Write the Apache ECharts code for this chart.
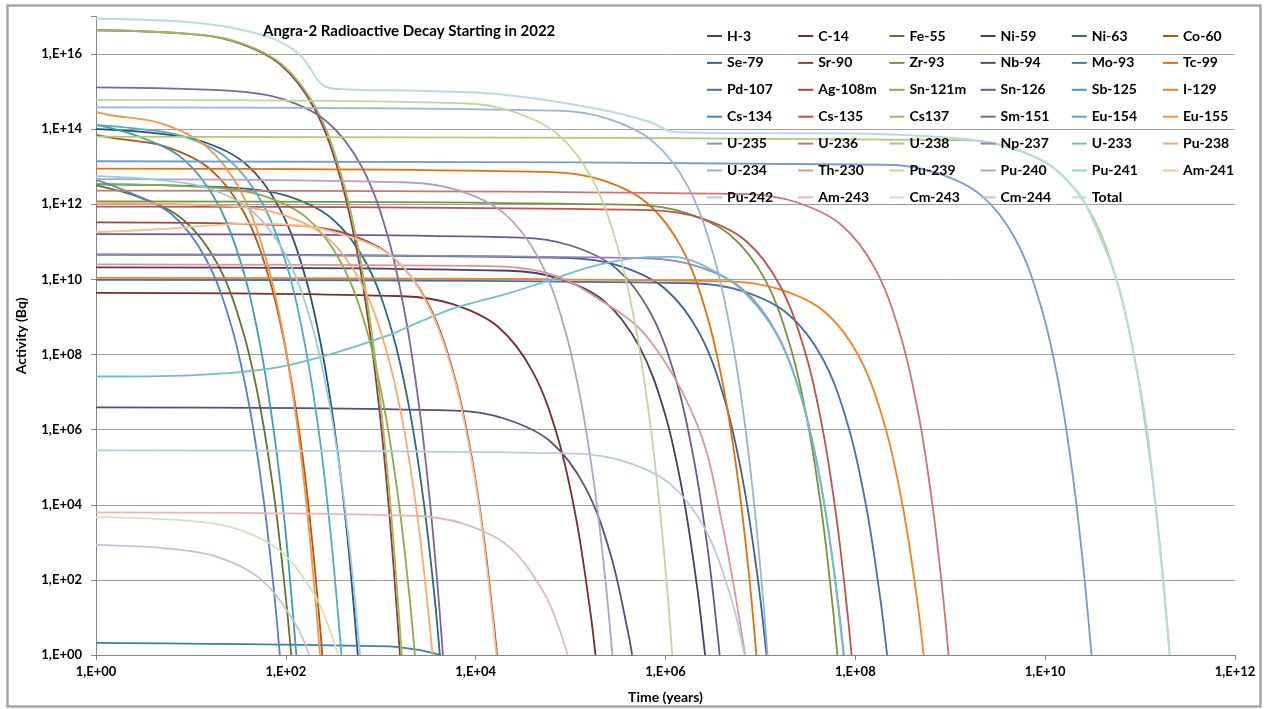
<!DOCTYPE html>
<html>
<head>
<meta charset="utf-8">
<title>Angra-2 Radioactive Decay</title>
<script src="https://cdn.jsdelivr.net/npm/echarts@6/dist/echarts.min.js"></script>
<style>
  html, body { margin: 0; padding: 0; background: #fff; }
  #main { width: 1271px; height: 709px; }
</style>
</head>
<body>
<div id="main"></div>
<script>
  // legend order, 6 per row
  const names = [
    'H-3', 'C-14', 'Fe-55', 'Ni-59', 'Ni-63', 'Co-60',
    'Se-79', 'Sr-90', 'Zr-93', 'Nb-94', 'Mo-93', 'Tc-99',
    'Pd-107', 'Ag-108m', 'Sn-121m', 'Sn-126', 'Sb-125', 'I-129',
    'Cs-134', 'Cs-135', 'Cs137', 'Sm-151', 'Eu-154', 'Eu-155',
    'U-235', 'U-236', 'U-238', 'Np-237', 'U-233', 'Pu-238',
    'U-234', 'Th-230', 'Pu-239', 'Pu-240', 'Pu-241', 'Am-241',
    'Pu-242', 'Am-243', 'Cm-243', 'Cm-244', 'Total'
  ];

  // [time (years), activity (Bq)]
  const h3 = [[1,1e14],[3.7,8.1e13],[12.3,5e13],[37,1.25e13],[86,7.8e11],[160,1.2e10],[246,9.5e7],[345,3.7e5],[444,1.5e3],[542,5.7],[573,1]];
  const c14 = [[1,4.4e9],[1719,3.56e9],[5730,2.2e9],[17190,5.5e8],[40110,3.4e7],[74490,5.4e5],[114600,4.2e3],[160440,16],[183000,1]];
  const fe55 = [[1,3.2e12],[2.74,1.6e12],[8.2,4e11],[19.2,2.5e10],[35.6,3.9e8],[54.8,3e6],[76.7,1.2e4],[98.6,47],[114,1]];
  const ni59 = [[1,2.1e10],[2.28e4,1.7e10],[7.6e4,1.05e10],[2.28e5,2.6e9],[5.32e5,1.6e8],[9.88e5,2.6e6],[1.52e6,2e4],[2.13e6,78],[2.61e6,1]];
  const ni63 = [[1,3.4e12],[30,2.75e12],[101,1.7e12],[303,4.25e11],[707,2.65e10],[1313,4.1e8],[2020,3.2e6],[2828,1.26e4],[3636,50],[4200,1]];
  const co60 = [[1,7e13],[1.6,5.7e13],[5.3,3.5e13],[15.8,8.8e12],[36.9,5.5e11],[68.5,8.5e9],[105,6.7e7],[148,2.6e5],[190,1e3],[232,4],[242,1]];
  const se79 = [[1,4.6e10],[9.8e4,3.7e10],[3.27e5,2.3e10],[9.8e5,5.75e9],[2.29e6,3.6e8],[4.25e6,5.6e6],[6.54e6,4.4e4],[9.16e6,170],[1.16e7,1]];
  const sr90 = [[1,4.3e16],[8.6,3.5e16],[28.8,2.15e16],[86.4,5.4e15],[202,3.4e14],[374,5.2e12],[576,4.1e10],[806,1.6e8],[1037,6.3e5],[1267,2.5e3],[1498,9.5],[1593,1]];
  const zr93 = [[1,1.2e12],[4.83e5,9.7e11],[1.61e6,6e11],[4.83e6,1.5e11],[1.13e7,9.4e9],[2.09e7,1.46e8],[3.22e7,1.14e6],[4.51e7,4.4e3],[5.8e7,17.5],[6.46e7,1]];
  const nb94 = [[1,3.9e6],[6090,3.2e6],[2.03e4,1.95e6],[6.09e4,4.9e5],[1.42e5,3e4],[2.64e5,476],[4.06e5,3.7],[4.45e5,1]];
  const mo93 = [[1,2.1],[1200,1.7],[2400,1.39],[3400,1.16],[4300,1]];
  const tc99 = [[1,8.9e12],[6.3e4,7.2e12],[2.11e5,4.45e12],[6.33e5,1.1e12],[1.48e6,6.9e10],[2.74e6,1.09e9],[4.22e6,8.5e6],[5.91e6,3.3e4],[7.6e6,130],[9.07e6,1]];
  const pd107 = [[1,9.7e9],[1.95e6,7.9e9],[6.5e6,4.85e9],[1.95e7,1.2e9],[4.55e7,7.6e7],[8.45e7,1.2e6],[1.3e8,9.2e3],[1.82e8,36],[2.16e8,1]];
  const ag108m = [[1,3.3e11],[131,2.7e11],[438,1.65e11],[1314,4.1e10],[3066,2.6e9],[5694,4e7],[8760,3.1e5],[12264,1.2e3],[15768,4.8],[16800,1]];
  const sn121m = [[1,3.5e12],[16.5,2.8e12],[55,1.75e12],[165,4.4e11],[385,2.7e10],[715,4.3e8],[1100,3.3e6],[1540,1.3e4],[1980,51],[2290,1]];
  const sn126 = [[1,1.6e11],[3e4,1.3e11],[1e5,8e10],[3e5,2e10],[7e5,1.25e9],[1.3e6,2e7],[2e6,1.5e5],[2.8e6,590],[3.6e6,2.3],[3.72e6,1]];
  const sb125 = [[1,1.3e14],[2.76,6.5e13],[8.3,1.6e13],[19.3,1e12],[35.9,1.6e10],[55.2,1.2e8],[77.3,4.8e5],[99.4,1.9e3],[121,7.4],[129,1]];
  const i129 = [[1,1.1e10],[4.7e6,8.9e9],[1.57e7,5.5e9],[4.71e7,1.4e9],[1.1e8,8.6e7],[2.04e8,1.3e6],[3.14e8,1e4],[4.4e8,41],[5.24e8,1]];
  const cs134 = [[1,4.5e12],[2.06,2.25e12],[6.2,5.6e11],[14.4,3.5e10],[26.8,5.5e8],[41.2,4.3e6],[57.7,1.7e4],[74.2,66],[86.5,1]];
  const cs135 = [[1,8.7e11],[6.9e5,7e11],[2.3e6,4.35e11],[6.9e6,1.1e11],[1.61e7,6.8e9],[2.99e7,1.06e8],[4.6e7,8.3e5],[6.44e7,3.2e3],[8.28e7,12.7],[9.13e7,1]];
  const cs137 = [[1,4.3e16],[9,3.5e16],[30.1,2.15e16],[90.3,5.4e15],[211,3.4e14],[391,5.2e12],[602,4.1e10],[843,1.6e8],[1084,6.3e5],[1324,2.5e3],[1565,9.5],[1665,1]];
  const sm151 = [[1,1.3e15],[27,1.05e15],[90,6.5e14],[270,1.6e14],[630,1e13],[1170,1.6e11],[1800,1.2e9],[2520,4.8e6],[3240,1.9e4],[3960,74],[4520,1]];
  const eu154 = [[1,1.3e14],[2.5,1.05e14],[8.2,6.5e13],[24.6,1.6e13],[57.4,1e12],[107,1.6e10],[164,1.2e8],[230,4.8e5],[295,1.9e3],[361,7.4],[385,1]];
  const eu155 = [[1,2.9e14],[1.43,2.35e14],[4.76,1.45e14],[14.3,3.6e13],[33.3,2.3e12],[61.9,3.5e10],[95.2,2.8e8],[133,1.1e6],[171,4.2e3],[209,17],[229,1]];
  const u235 = [[1,1.4e13],[2.1e8,1.13e13],[7.04e8,7e12],[2.11e9,1.75e12],[4.93e9,1.1e11],[9.15e9,1.7e9],[1.41e10,1.33e7],[1.97e10,5.2e4],[2.53e10,204],[3.08e10,1]];
  const u236 = [[1,2.3e12],[7e6,1.86e12],[2.34e7,1.15e12],[7.02e7,2.9e11],[1.64e8,1.8e10],[3.04e8,2.8e8],[4.68e8,2.2e6],[6.55e8,8.5e3],[8.42e8,34],[9.6e8,1]];
  const u238 = [[1,6.3e13],[1.34e9,5.1e13],[4.47e9,3.15e13],[1.34e10,7.9e12],[3.13e10,4.9e11],[5.81e10,7.7e9],[8.94e10,6e7],[1.25e11,2.3e5],[1.61e11,920],[1.97e11,3.6],[2.05e11,1]];
  const np237 = [[1,4.5e10],[6.4e5,3.65e10],[2.14e6,2.25e10],[6.42e6,5.6e9],[1.5e7,3.5e8],[2.78e7,5.5e6],[4.28e7,4.3e4],[5.99e7,167],[7.58e7,1]];
  const u233 = [[1,2.6e7],[10,2.8e7],[68,4.2e7],[230,8.5e7],[1260,3.4e8],[2750,8e8],[6300,1.8e9],[2.3e4,4.4e9],[5.6e4,9e9],[1.9e5,2.4e10],[6.5e5,3.9e10],[1.2e6,4e10],[3.2e6,1.7e10],[7.2e6,3.9e9],[1.6e7,2.4e8],[3e7,2.7e6],[5e7,4e3],[7.5e7,1]];
  const pu238 = [[1,1.1e12],[26,8.9e11],[87.7,5.5e11],[263,1.4e11],[614,8.6e9],[1140,1.34e8],[1754,1.05e6],[2456,4.1e3],[3157,16],[3508,1]];
  const u234 = [[1,3.8e14],[7.35e4,3.1e14],[2.45e5,1.9e14],[7.35e5,4.75e13],[1.72e6,3e12],[3.19e6,4.6e10],[4.9e6,3.6e8],[6.86e6,1.4e6],[8.82e6,5.5e3],[1.08e7,22],[1.19e7,1]];
  const th230 = [[1,2.5e10],[1e4,2.3e10],[5.6e4,1.5e10],[1.9e5,3.2e9],[6.5e5,2.8e8],[2.2e6,1.2e6],[4e6,2.7e3],[6.9e6,1]];
  const pu239 = [[1,6e14],[7230,4.9e14],[2.41e4,3e14],[7.23e4,7.5e13],[1.69e5,4.7e12],[3.13e5,7.3e10],[4.82e5,5.7e8],[6.75e5,2.2e6],[8.68e5,8.8e3],[1.06e6,34],[1.18e6,1]];
  const pu240 = [[1,4.7e12],[1968,3.8e12],[6561,2.35e12],[1.97e4,5.9e11],[4.59e4,3.7e10],[8.53e4,5.7e8],[1.31e5,4.5e6],[1.84e5,1.7e4],[2.36e5,69],[2.76e5,1]];
  const pu241 = [[1,5.6e12],[4.3,4.5e12],[14.3,2.8e12],[42.9,7e11],[100,4.4e10],[186,6.8e8],[286,5.3e6],[400,2.1e4],[515,82],[605,1]];
  const am241 = [[1,1.8e11],[5,2.2e11],[15,2.7e11],[40,3.05e11],[100,2.9e11],[300,1.9e11],[1300,4.2e10],[3000,2.6e9],[5600,4e7],[8600,3.2e5],[12000,1.4e3],[16500,1]];
  const pu242 = [[1,2.8e5],[1.13e5,2.3e5],[3.75e5,1.4e5],[1.13e6,3.5e4],[2.63e6,2.2e3],[4.88e6,34],[6.8e6,1]];
  const am243 = [[1,6.3e3],[2210,5.1e3],[7370,3.15e3],[2.21e4,790],[5.16e4,49],[7.37e4,6.2],[9.3e4,1]];
  const cm243 = [[1,4.7e3],[8.7,3.8e3],[29.1,2.35e3],[87,590],[204,37],[291,4.6],[355,1]];
  const cm244 = [[1,850],[5.4,690],[18.1,425],[54,106],[127,6.6],[176,1]];
  const total = [[1,8.7e16],[12.5,6.6e16],[63,2.95e16],[141,9.5e15],[229,1.75e15],[316,1.2e15],[2570,1.05e15],[1.8e4,8.5e14],[2e5,3.4e14],[6.9e5,1.55e14],[1.2e6,8.5e13],[3.8e6,7.9e13],[1e8,7.7e13],[1e9,5.9e13],[3e9,4.1e13],[1e10,1.33e13],[2e10,2.8e12],[2.67e10,1e12],[5.65e10,1e10],[8.6e10,1e8],[1.17e11,1.2e6],[1.45e11,1e4],[1.74e11,100],[2.05e11,1]];

  const curves = [
    h3, c14, fe55, ni59, ni63, co60,
    se79, sr90, zr93, nb94, mo93, tc99,
    pd107, ag108m, sn121m, sn126, sb125, i129,
    cs134, cs135, cs137, sm151, eu154, eu155,
    u235, u236, u238, np237, u233, pu238,
    u234, th230, pu239, pu240, pu241, am241,
    pu242, am243, cm243, cm244, total
  ];

  // office accent colours (h, s, l); each legend row is a darker / lighter variant
  const accents = [[213,45,53],[2,48,53],[80,42,54],[267,25,51],[193,52,54],[27,92,62]];
  const rowShift = [-0.4, -0.24, -0.12, 0, 0.2, 0.4, 0.58];
  function colorOf(i) {
    const a = accents[i % 6];
    const k = rowShift[Math.floor(i / 6)];
    const l = k < 0 ? a[2] * (1 + k) : a[2] + (100 - a[2]) * k;
    return 'hsl(' + a[0] + ',' + a[1] + '%,' + l.toFixed(1) + '%)';
  }

  function sciLabel(v) {
    const e = Math.round(Math.log10(v));
    if (e % 2) return '';
    return '1,E+' + (e < 10 ? '0' : '') + e;
  }

  const font = 'Lato';
  const myChart = echarts.init(document.getElementById('main'));

  const legends = [0, 1, 2, 3, 4, 5].map(function (c) {
    return {
      orient: 'vertical',
      left: 702 + c * 91.2,
      top: 24,
      itemGap: 12.9,
      itemWidth: 15,
      itemHeight: 2,
      icon: 'rect',
      selectedMode: false,
      data: names.filter(function (n, i) { return i % 6 === c; }),
      textStyle: { fontFamily: font, fontWeight: 'bold', fontSize: 14, color: '#000' }
    };
  });

  myChart.setOption({
    animation: false,
    backgroundColor: '#fff',
    title: {
      text: 'Angra-2 Radioactive Decay Starting in 2022',
      left: 258,
      top: 19,
      textStyle: { fontFamily: font, fontWeight: 'bold', fontSize: 15, color: '#000' }
    },
    legend: legends,
    graphic: [{
      type: 'rect',
      shape: { x: 7.5, y: 5.5, width: 1253, height: 701 },
      style: { fill: 'none', stroke: '#a6a6a6', lineWidth: 2.5 },
      silent: true
    }],
    grid: { left: 96, right: 36, top: 16.5, bottom: 49 },
    xAxis: {
      type: 'log',
      logBase: 10,
      min: 1,
      max: 1e12,
      interval: 2,
      name: 'Time (years)',
      nameLocation: 'middle',
      nameGap: 35,
      nameTextStyle: { fontFamily: font, fontWeight: 'bold', fontSize: 14, color: '#000' },
      axisLine: { lineStyle: { color: '#868686' } },
      axisTick: { length: 5, lineStyle: { color: '#868686' } },
      axisLabel: { formatter: sciLabel, margin: 10, fontFamily: font, fontWeight: 'bold', fontSize: 13, color: '#000' },
      splitLine: { show: false }
    },
    yAxis: {
      type: 'log',
      logBase: 10,
      min: 1,
      max: 1e17,
      interval: 2,
      name: 'Activity (Bq)',
      nameLocation: 'middle',
      nameRotate: 90,
      nameGap: 68,
      nameTextStyle: { fontFamily: font, fontWeight: 'bold', fontSize: 14, color: '#000' },
      axisLine: { show: true, lineStyle: { color: '#868686' } },
      axisTick: { show: true, length: 5, lineStyle: { color: '#868686' } },
      axisLabel: { formatter: sciLabel, margin: 14, fontFamily: font, fontWeight: 'bold', fontSize: 13, color: '#000' },
      splitLine: { show: true, showMaxLine: false, lineStyle: { color: '#a0a0a0', width: 1 } }
    },
    series: names.map(function (n, i) {
      return {
        name: n,
        type: 'line',
        data: curves[i],
        symbol: 'none',
        showSymbol: false,
        smooth: 0.35,
        silent: true,
        lineStyle: { width: n === 'Total' ? 2 : 1.8, color: colorOf(i) },
        itemStyle: { color: colorOf(i) }
      };
    })
  });
  window.addEventListener('resize', myChart.resize);
</script>
</body>
</html>
